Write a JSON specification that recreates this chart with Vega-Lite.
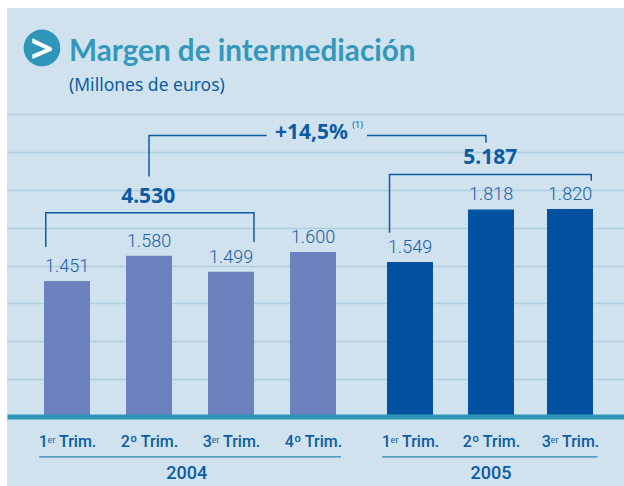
{
"$schema":"https://vega.github.io/schema/vega-lite/v6.json",
"width":617,"height":478,"autosize":{"type":"none"},"padding":{"left":7,"top":8,"right":0,"bottom":0},
"background":"#ffffff",
"view":{"fill":"#cfe2ee","stroke":null},
"title":{"text":"Margen de intermediación","subtitle":"(Millones de euros)","anchor":"start","frame":"group","orient":"top","offset":-87,"dx":62,"font":"Lato","fontSize":29.7,"fontWeight":"bold","color":"#3598bb","subtitleFont":"Noto Sans","subtitleFontSize":17.5,"subtitleColor":"#0d5ca3","subtitlePadding":9},
"datasets":{
"bars":[
{"q":1,"v":1451,"label":"1.451","year":"2004"},
{"q":2,"v":1580,"label":"1.580","year":"2004"},
{"q":3,"v":1499,"label":"1.499","year":"2004"},
{"q":4,"v":1600,"label":"1.600","year":"2004"},
{"q":5,"v":1549,"label":"1.549","year":"2005"},
{"q":6,"v":1818,"label":"1.818","year":"2005"},
{"q":7,"v":1820,"label":"1.820","year":"2005"}],
"brackets":[
{"part":"2004","i":1,"q":0.72,"v":1626},{"part":"2004","i":2,"q":0.72,"v":1801},{"part":"2004","i":3,"q":3.28,"v":1801},{"part":"2004","i":4,"q":3.28,"v":1651},
{"part":"2005","i":1,"q":4.789,"v":1699},{"part":"2005","i":2,"q":4.789,"v":1997},{"part":"2005","i":3,"q":7.29,"v":1997},{"part":"2005","i":4,"q":7.29,"v":1965},
{"part":"linkL","i":1,"q":2.0,"v":1987},{"part":"linkL","i":2,"q":2.0,"v":2197},{"part":"linkL","i":3,"q":3.435,"v":2197},
{"part":"linkR","i":1,"q":4.557,"v":2197},{"part":"linkR","i":2,"q":5.938,"v":2197},{"part":"linkR","i":3,"q":5.938,"v":2160}],
"years":[{"q":0.634,"q2":4.289,"mid":2.46,"year":"2004","v":549,"vt":461},{"q":4.711,"q2":7.375,"mid":6.0,"year":"2005","v":549,"vt":461}],
"totals":[{"q":1.99,"v":1882,"label":"4.530"},{"q":5.99,"v":2082,"label":"5.187"},{"q":3.98,"v":2210,"label":"+14,5%"}],
"note":[{"q":4.46,"v":2251,"label":"(1)"}],
"logo":[{"q":0.67,"v":2646,"label":">"}]
},
"encoding":{
"x":{"field":"q","type":"quantitative","title":null,
 "scale":{"domain":[0.27,1,2,3,4,5,6,7,7.675],"range":[0,60,142,224,306,403,484,563,617],"nice":false,"zero":false},
 "axis":{"values":[1,2,3,4,5,6,7],"labelExpr":"['1ᵉʳ Trim.','2º Trim.','3ᵉʳ Trim.','4º Trim.','1ᵉʳ Trim.','2º Trim.','3ᵉʳ Trim.'][datum.value-1]","offset":-69.5,"domainColor":"#2e96b8","domainWidth":5,"ticks":false,"grid":false,"labelFont":"Roboto","labelFontWeight":500,"labelFontSize":16,"labelColor":"#0d5ca3","labelPadding":17,"labelOverlap":false,"labelFlush":false,"labelBound":false,"zindex":1}},
"y":{"field":"v","type":"quantitative","title":null,
 "scale":{"domain":[400,2851],"nice":false,"zero":false},
 "axis":{"values":[949,1143,1336,1530,1724,1918,2112,2306],"grid":true,"gridColor":"#aecde0","gridWidth":1.5,"labels":false,"ticks":false,"domain":false}}
},
"layer":[
{"data":{"name":"bars"},"mark":{"type":"bar","size":46},
 "encoding":{"y2":{"datum":764},"color":{"field":"year","type":"nominal","legend":null,"scale":{"domain":["2004","2005"],"range":["#6b82bf","#03529f"]}}}},
{"data":{"name":"bars"},"mark":{"type":"text","dy":-5,"baseline":"bottom","font":"Roboto","fontSize":18,"fontWeight":300,"color":"#1a5fa8"},"encoding":{"text":{"field":"label"}}},
{"data":{"name":"brackets"},"mark":{"type":"line","color":"#0d5ca3","strokeWidth":1.5,"interpolate":"linear"},"encoding":{"detail":{"field":"part"},"order":{"field":"i"}}},
{"data":{"name":"totals"},"mark":{"type":"text","font":"Noto Sans","fontWeight":"bold","fontSize":21,"color":"#0d5ca3","baseline":"middle"},"encoding":{"text":{"field":"label"}}},
{"data":{"name":"note"},"mark":{"type":"text","font":"Noto Sans","fontSize":9,"color":"#0d5ca3","baseline":"middle"},"encoding":{"text":{"field":"label"}}},
{"data":{"name":"years"},"mark":{"type":"rule","color":"#2e86b5","strokeWidth":1.2},"encoding":{"x2":{"field":"q2"}}},
{"data":{"name":"years"},"mark":{"type":"text","font":"Roboto","fontWeight":500,"fontSize":18,"color":"#0d5ca3","baseline":"middle"},"encoding":{"x":{"field":"mid","type":"quantitative"},"y":{"field":"vt","type":"quantitative"},"text":{"field":"year"}}},
{"data":{"name":"logo"},"mark":{"type":"point","shape":"circle","filled":true,"size":1350,"color":"#2e96b8","opacity":1}},
{"data":{"name":"logo"},"mark":{"type":"text","font":"Noto Sans","fontWeight":"bold","fontSize":40,"dy":3,"color":"#ffffff","baseline":"middle"},"encoding":{"text":{"field":"label"}}}
]
}
